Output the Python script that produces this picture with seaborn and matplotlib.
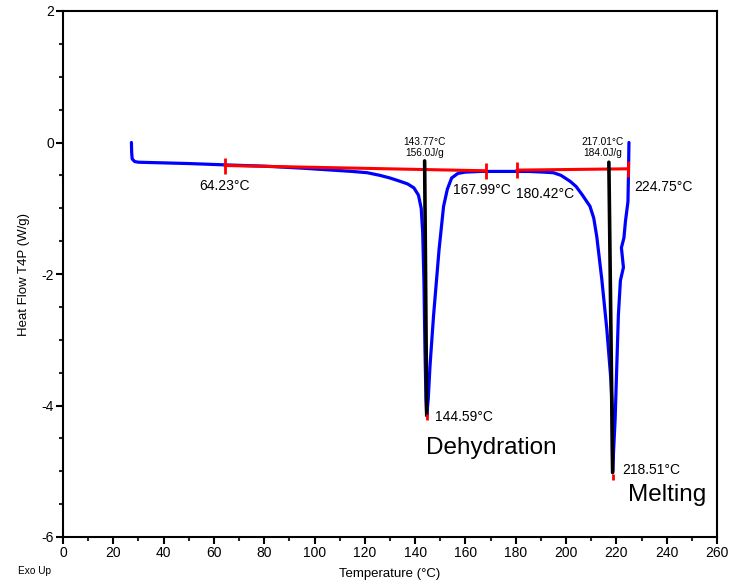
import numpy as np
import pandas as pd
import matplotlib
matplotlib.use('Agg')
import matplotlib.pyplot as plt
import seaborn as sns
from matplotlib.ticker import MultipleLocator

# DSC trace (Temperature °C, Heat Flow W/g)
temp = [27.2, 27.3, 27.5, 28.5, 30, 40, 50, 64.2, 80, 95, 107, 115, 121, 126,
        130, 134, 137, 139.5, 141.3, 142.4, 143.0, 143.5, 143.9, 144.3, 144.6, 145.2,
        145.9, 147.3, 149.5, 151.3, 152.8, 154.5, 157, 160, 166, 175, 185, 191,
        195, 198, 201.6, 204, 206.5, 209.5, 211, 212.2, 214.2, 216.2, 217.8,
        218.3, 218.5, 219.0, 219.5, 220.2, 220.8, 221.6, 222.8, 222.0, 223.0, 223.6,
        224.6, 224.8, 225.0]
heat_flow = [0.0, -0.15, -0.25, -0.29, -0.30, -0.31, -0.32, -0.34, -0.36, -0.39,
             -0.42, -0.44, -0.46, -0.50, -0.54, -0.59, -0.63, -0.69, -0.80, -1.00, -1.37,
             -2.13, -3.15, -3.90, -4.15, -3.90, -3.40, -2.64, -1.63, -0.97, -0.71,
             -0.54, -0.47, -0.45, -0.44, -0.44, -0.44, -0.45, -0.46, -0.50, -0.59,
             -0.67, -0.80, -0.97, -1.15, -1.43, -2.08, -2.84, -3.60, -4.01, -5.00,
             -4.60, -4.21, -3.35, -2.62, -2.10, -1.90, -1.60, -1.45, -1.20, -0.90, -0.50,
             0.0]

# integration baselines
base1_t = [64.23, 167.99]
base1_y = [-0.35, -0.43]
base2_t = [180.42, 224.75]
base2_y = [-0.42, -0.40]

# peak height lines (onset -> peak)
peak1_t = [143.77, 144.59]
peak1_y = [-0.28, -4.15]
peak2_t = [217.01, 218.51]
peak2_y = [-0.30, -5.02]
peak_dots_t = [144.59, 218.51]
peak_dots_y = [-4.18, -5.08]

df = pd.DataFrame({'Temperature': temp, 'HeatFlow': heat_flow})

sns.set_theme(style='ticks')
plt.rcParams['font.family'] = ['Liberation Sans', 'DejaVu Sans']
plt.rcParams['axes.unicode_minus'] = False
plt.rcParams['text.color'] = 'black'
plt.rcParams['axes.labelcolor'] = 'black'

fig = plt.figure(figsize=(7.3, 5.82), dpi=100)
ax = fig.add_axes([63 / 730, 1 - 537 / 582, 654 / 730, 526 / 582])

sns.lineplot(data=df, x='Temperature', y='HeatFlow', sort=False, estimator=None,
             color='#0000ff', linewidth=2.3, ax=ax)
ax.plot(base1_t, base1_y, color='#ff0000', lw=2.2, marker='|', ms=12, mew=2)
ax.plot(base2_t, base2_y, color='#ff0000', lw=2.2, marker='|', ms=12, mew=2)
ax.plot(peak1_t, peak1_y, color='black', lw=2.6)
ax.plot(peak2_t, peak2_y, color='black', lw=2.6)
ax.plot(peak_dots_t, peak_dots_y, ls='none', marker='|', ms=5, mew=2, color='#ff0000')

# annotations
ax.text(64.4, -0.66, '64.23°C', ha='center', va='center', fontsize=10)
ax.text(143.8, -0.23, '143.77°C\n156.0J/g', ha='center', va='bottom', fontsize=7.3,
        linespacing=1.1)
ax.text(214.7, -0.23, '217.01°C\n184.0J/g', ha='center', va='bottom', fontsize=7.3,
        linespacing=1.1)
ax.text(166.5, -0.73, '167.99°C', ha='center', va='center', fontsize=10)
ax.text(191.8, -0.78, '180.42°C', ha='center', va='center', fontsize=10)
ax.text(238.8, -0.67, '224.75°C', ha='center', va='center', fontsize=10)
ax.text(147.9, -4.17, '144.59°C', ha='left', va='center', fontsize=10)
ax.text(222.3, -4.98, '218.51°C', ha='left', va='center', fontsize=10)
ax.text(144.3, -4.745, 'Dehydration', ha='left', va='baseline', fontsize=17.5)
ax.text(224.8, -5.46, 'Melting', ha='left', va='baseline', fontsize=17.5)

ax.set_xlim(0, 260)
ax.set_ylim(-6, 2)
ax.xaxis.set_major_locator(MultipleLocator(20))
ax.xaxis.set_minor_locator(MultipleLocator(10))
ax.yaxis.set_major_locator(MultipleLocator(2))
ax.yaxis.set_minor_locator(MultipleLocator(0.5))
ax.tick_params(which='major', direction='out', length=5, width=1.5, labelsize=10,
               colors='black', pad=1.5)
ax.tick_params(which='minor', direction='out', length=3, width=1.5)
ax.tick_params(top=False, right=False, which='both')
for s in ax.spines.values():
    s.set_color('black')
    s.set_linewidth(1.5)

ax.set_xlabel('Temperature (°C)', fontsize=9.5, labelpad=6)
ax.set_ylabel('Heat Flow T4P (W/g)', fontsize=9.5, labelpad=8)
fig.text(34 / 730, 1 - 571 / 582, 'Exo Up', ha='center', va='center', fontsize=7.3)

fig.savefig('out.png', dpi=100)
